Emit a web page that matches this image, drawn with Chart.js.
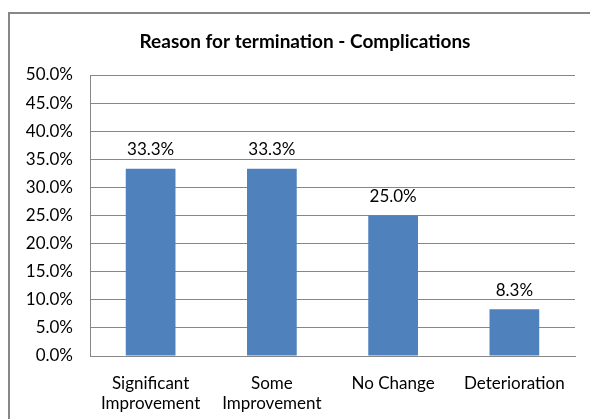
<!DOCTYPE html>
<html>
<head>
<meta charset="utf-8">
<script src="https://cdn.jsdelivr.net/npm/chart.js@4"></script>
<style>
  html, body { margin: 0; padding: 0; background: #fff; overflow: hidden; }
  #wrap { position: relative; width: 590px; height: 419px; }
  #frame { position: absolute; left: 8px; top: 12px; width: 700px; height: 500px; border: 2px solid #878787; }
  #c { position: absolute; left: 0; top: 0; }
</style>
</head>
<body>
<div id="wrap">
  <div id="frame"></div>
  <canvas id="c" width="590" height="419"></canvas>
</div>
<script>
const chartTitle = 'Reason for termination - Complications';
const categories = [['Significant', 'Improvement'], ['Some', 'Improvement'], 'No Change', 'Deterioration'];
const values = [33.3, 33.3, 25.0, 8.3];
const yTicks = [0, 5, 10, 15, 20, 25, 30, 35, 40, 45, 50];

const fontFam = 'Lato, "Open Sans", sans-serif';

// value above each bar, and the title (centred on the outer frame, not the canvas)
const barLabels = {
  id: 'barLabels',
  afterDatasetsDraw(chart) {
    const ctx = chart.ctx;
    const meta = chart.getDatasetMeta(0);
    ctx.save();
    ctx.font = '17px ' + fontFam;
    ctx.fillStyle = '#000';
    ctx.textAlign = 'center';
    ctx.textBaseline = 'middle';
    meta.data.forEach((bar, i) => {
      ctx.fillText(values[i].toFixed(1) + '%', bar.x, bar.y - 19);
    });
    ctx.font = 'bold 19px ' + fontFam;
    ctx.fillText(chartTitle, 305, 42);
    ctx.restore();
  }
};

new Chart(document.getElementById('c').getContext('2d'), {
  type: 'bar',
  data: {
    labels: categories,
    datasets: [{
      data: values,
      backgroundColor: '#4F81BD',
      borderWidth: 0,
      barPercentage: 0.41,
      categoryPercentage: 1.0
    }]
  },
  options: {
    responsive: false,
    animation: false,
    layout: { padding: { top: 75, right: 15, left: 10, bottom: 0 } },
    plugins: {
      legend: { display: false },
      tooltip: { enabled: false },
      title: { display: false }
    },
    scales: {
      x: {
        afterFit(scale) { scale.height = 63; },
        grid: { display: false, drawTicks: false },
        border: { display: true, color: '#878787' },
        ticks: {
          color: '#000',
          font: { family: fontFam, size: 17 },
          maxRotation: 0,
          padding: 17
        }
      },
      y: {
        min: 0,
        max: 50,
        afterFit(scale) { scale.width = 80; },
        afterBuildTicks(scale) { scale.ticks = yTicks.map(v => ({ value: v })); },
        grid: { color: '#878787', drawTicks: false },
        border: { display: true, color: '#878787' },
        ticks: {
          color: '#000',
          padding: 17,
          font: { family: fontFam, size: 17 },
          callback: v => v.toFixed(1) + '%'
        }
      }
    }
  },
  plugins: [barLabels]
});
</script>
</body>
</html>
